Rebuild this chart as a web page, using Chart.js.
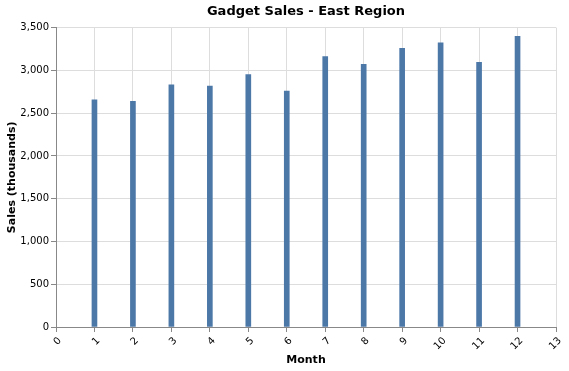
<!DOCTYPE html>
<html>
<head>
<meta charset="utf-8">
<script src="https://cdn.jsdelivr.net/npm/chart.js@4/dist/chart.umd.min.js"></script>
<style>
  html, body { margin: 0; padding: 0; background: #fff; }
  #wrap { width: 569px; height: 371px; position: relative; }
</style>
</head>
<body>
<div id="wrap"><canvas id="chart"></canvas></div>
<script>
const months = [1, 2, 3, 4, 5, 6, 7, 8, 9, 10, 11, 12];
const sales  = [2655, 2637, 2832, 2815, 2952, 2757, 3162, 3072, 3259, 3321, 3095, 3398];

const FONT = 'DejaVu Sans, Verdana, sans-serif';
const barColor = '#4c78a8';
const gridColor = '#dddddd';
const axisColor = '#888888';

new Chart(document.getElementById('chart'), {
    type: 'bar',
    data: {
        datasets: [{
            label: 'Sales',
            data: months.map((m, i) => ({ x: m, y: sales[i] })),
            backgroundColor: barColor,
            barThickness: 5,
        }],
    },
    options: {
        responsive: true,
        maintainAspectRatio: false,
        animation: false,
        layout: { padding: { left: 0, right: 13, top: 0, bottom: 0 } },
        plugins: {
            legend: { display: false },
            tooltip: { enabled: false },
            title: {
                display: true,
                fullSize: false,
                text: 'Gadget Sales - East Region',
                color: '#000',
                font: { family: FONT, size: 13, weight: 'bold' },
                padding: { top: 4, bottom: 8 },
            },
        },
        scales: {
            x: {
                type: 'linear',
                min: 0,
                max: 13,
                offset: false,
                ticks: {
                    stepSize: 1,
                    color: '#000',
                    font: { family: FONT, size: 10 },
                    minRotation: 45,
                    maxRotation: 45,
                    padding: 3,
                    labelOffset: 4,
                },
                grid: { color: gridColor, tickColor: axisColor, tickLength: 5, offset: false },
                border: { color: axisColor },
                title: {
                    display: true,
                    text: 'Month',
                    color: '#000',
                    font: { family: FONT, size: 11, weight: 'bold' },
                    padding: { top: 3, bottom: 4 },
                },
                afterFit: scale => { scale.height = 44; },
            },
            y: {
                min: 0,
                max: 3500,
                ticks: {
                    stepSize: 500,
                    color: '#000',
                    font: { family: FONT, size: 10 },
                    padding: 2,
                    callback: v => v.toLocaleString('en-US'),
                },
                grid: { color: gridColor, tickColor: axisColor, tickLength: 5 },
                border: { color: axisColor },
                title: {
                    display: true,
                    text: 'Sales (thousands)',
                    color: '#000',
                    font: { family: FONT, size: 11, weight: 'bold' },
                    padding: { top: 6, bottom: 4 },
                },
                afterFit: scale => { scale.width = 56; },
            },
        },
    },
});
</script>
</body>
</html>
